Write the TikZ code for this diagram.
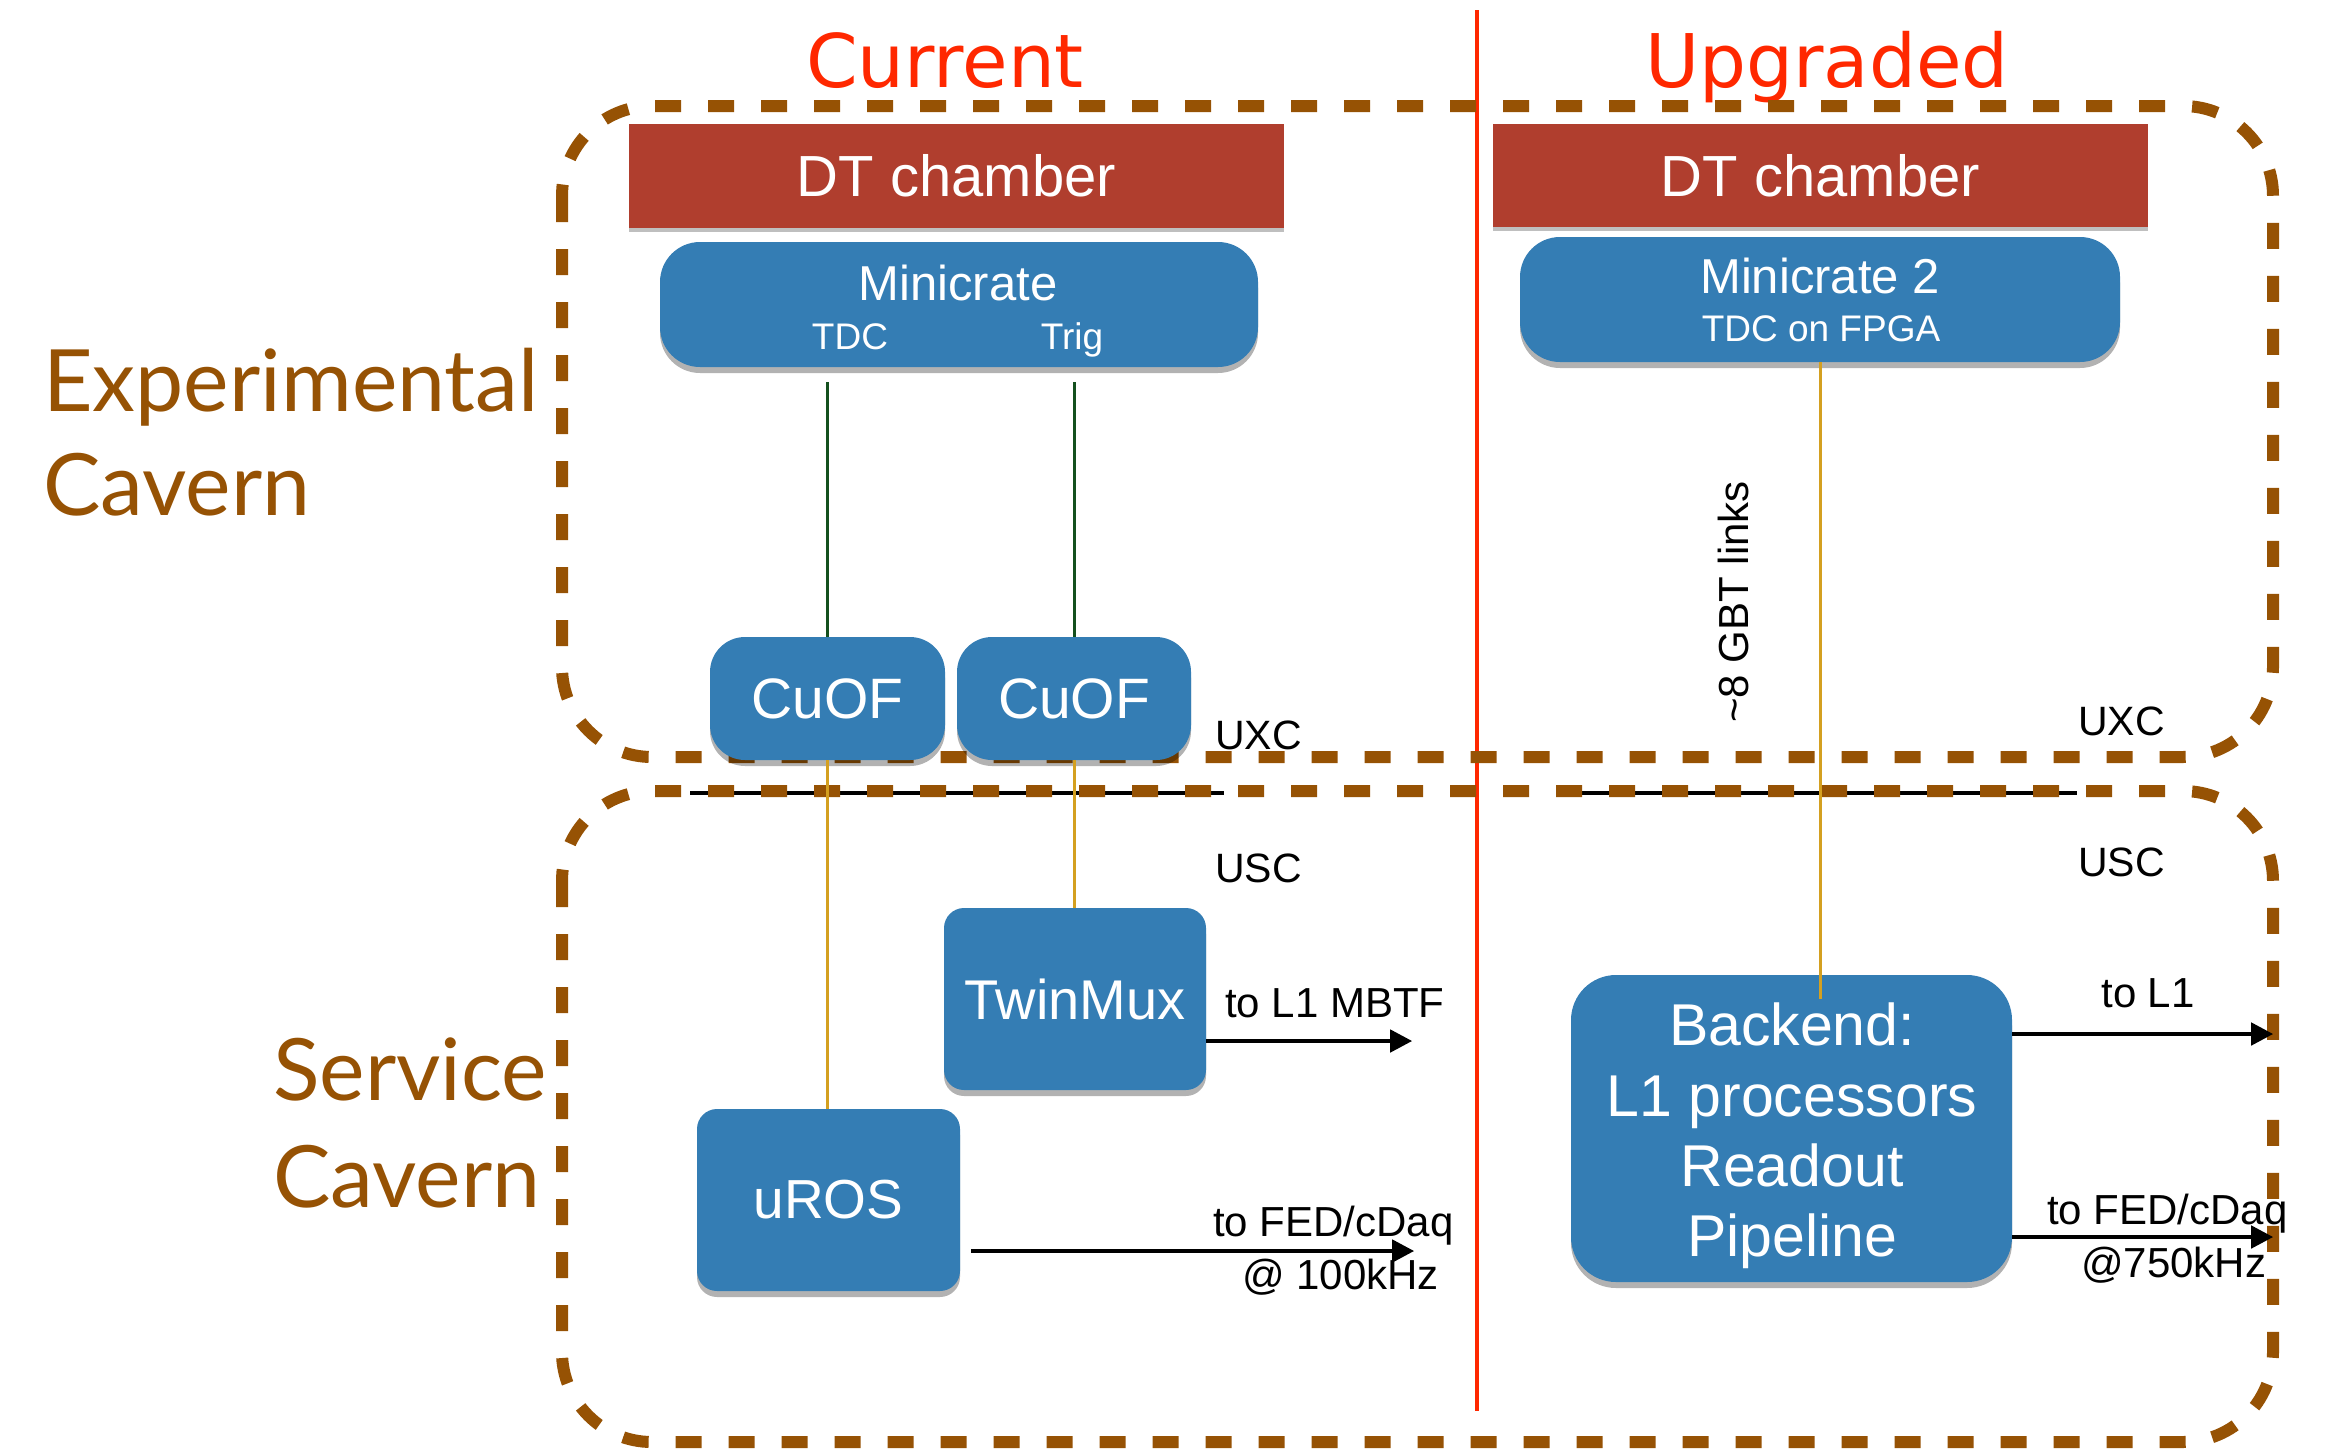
\documentclass[tikz,border=0pt]{standalone}
\usepackage{fontspec}
\setmainfont{Liberation Sans}
\newfontfamily\gillfont{Lato}
\newfontfamily\handfont{DejaVu Sans}
\usetikzlibrary{arrows.meta,shadows}
\definecolor{boxblue}{RGB}{52,125,180}
\definecolor{dtred}{RGB}{176,62,46}
\definecolor{cavbrown}{RGB}{150,82,4}
\definecolor{redline}{RGB}{255,40,0}
\definecolor{goldc}{RGB}{212,160,32}
\definecolor{dgreen}{RGB}{20,80,30}
\newcommand{\fsz}[1]{\fontsize{#1}{#1}\selectfont}
\begin{document}
\begin{tikzpicture}[x=1pt,y=-1pt,
  bluebox/.style={fill=boxblue, text=white, inner sep=0pt,
    drop shadow={shadow xshift=0pt,shadow yshift=-6pt,opacity=.3,fill=black}},
  dtbox/.style={fill=dtred, text=white, inner sep=0pt,
    drop shadow={shadow xshift=0pt,shadow yshift=-4pt,opacity=.25,fill=black}},
  wtext/.style={text=white, inner sep=0pt, anchor=base},
  ktext/.style={text=black, inner sep=0pt, anchor=base},
  cavtext/.style={text=cavbrown, inner sep=0pt, anchor=base west, font=\gillfont\fsz{86}},
  titletext/.style={text=redline, inner sep=0pt, anchor=base, font=\handfont\fsz{74}},
  cavern/.style={draw=cavbrown, line width=12pt, dash pattern=on 26pt off 27pt, rounded corners=90pt},
  greenline/.style={draw=dgreen, line width=3pt},
  goldline/.style={draw=goldc, line width=3pt},
  arr/.style={draw=black, line width=4.5pt, -{Triangle[length=22pt,width=22pt]}}
]
\useasboundingbox (0,0) rectangle (2341,1451);

% divider and titles
\draw[draw=redline, line width=4pt] (1477,10) -- (1477,1411);
\node[titletext] (tcur) at (945,87) {Current};
\node[titletext] (tupg) at (1827,87) {Upgraded};

% cavern labels
\node[cavtext] (lexp) at (43,411) {Experimental};
\node[cavtext] (lexc) at (43,515) {Cavern};
\node[cavtext] (lser) at (273,1100) {Service};
\node[cavtext] (lsec) at (273,1207) {Cavern};

% separation black lines
\draw[line width=4pt] (690,793) -- (1224,793);
\draw[line width=4pt] (1570,793) -- (2077,793);

% cavern boxes
\draw[cavern] (562,106) rectangle (2273,757);
\draw[cavern] (562,791) rectangle (2273,1442);

% current side
\node[dtbox, minimum width=655pt, minimum height=104pt, font=\fsz{58}] (dt1) at (956.5,176) {DT chamber};
\node[bluebox, minimum width=598pt, minimum height=125pt, rounded corners=40pt] (mc) at (959,304.5) {};
\node[wtext, font=\fsz{49}] (mct) at (958,300) {Minicrate};
\node[wtext, font=\fsz{37}] (mctdc) at (850,349) {TDC};
\node[wtext, font=\fsz{37}] (mctrig) at (1072,349) {Trig};

\node[bluebox, minimum width=235pt, minimum height=123pt, rounded corners=35pt, font=\fsz{57}] (cuof1) at (827.5,698.5) {CuOF};
\node[bluebox, minimum width=234pt, minimum height=123pt, rounded corners=35pt, font=\fsz{57}] (cuof2) at (1074,698.5) {CuOF};
\node[bluebox, minimum width=262pt, minimum height=182pt, rounded corners=20pt, font=\fsz{56}] (tm) at (1075,999) {TwinMux};
\node[bluebox, minimum width=263pt, minimum height=182pt, rounded corners=20pt, font=\fsz{55}] (uros) at (828.5,1200) {uROS};

\coordinate (g1) at (827.5,382);
\coordinate (g2) at (1074,382);
\draw[greenline] (g1) -- (cuof1.north);
\draw[greenline] (g2) -- (cuof2.north);
\draw[goldline] (cuof1.south) -- (cuof1.south |- uros.north);
\draw[goldline] (cuof2.south) -- (cuof2.south |- tm.north);

\node[ktext, anchor=base west, font=\fsz{41}] (uxc1) at (1215,749) {UXC};
\node[ktext, anchor=base west, font=\fsz{41}] (usc1) at (1215,882) {USC};

\draw[arr] ([yshift=-42pt]tm.east) -- ++(206,0);
\node[ktext, anchor=base west, font=\fsz{42}] (l1mbtf) at (1225,1017) {to L1 MBTF};
\draw[arr] ([xshift=11pt,yshift=-51pt]uros.east) -- ++(443,0);
\node[ktext, anchor=base west, font=\fsz{42}] (fed1) at (1213,1236) {to FED/cDaq};
\node[ktext, anchor=base west, font=\fsz{42}] (rate1) at (1242,1289) {@ 100kHz};

% upgraded side
\node[dtbox, minimum width=655pt, minimum height=103pt, font=\fsz{58}] (dt2) at (1820.5,175.5) {DT chamber};
\node[bluebox, minimum width=600pt, minimum height=125pt, rounded corners=40pt] (mc2) at (1820,299.5) {};
\node[wtext, font=\fsz{49}] (mc2t) at (1820,293) {Minicrate 2};
\node[wtext, font=\fsz{37}] (mc2s) at (1821,341) {TDC on FPGA};

\node[bluebox, minimum width=441pt, minimum height=307pt, rounded corners=45pt] (be) at (1791.5,1128.5) {};
\node[wtext, font=\fsz{59}] (be1) at (1792,1045) {Backend:};
\node[wtext, font=\fsz{59}] (be2) at (1792,1116) {L1 processors};
\node[wtext, font=\fsz{59}] (be3) at (1792,1186) {Readout};
\node[wtext, font=\fsz{59}] (be4) at (1792,1256) {Pipeline};

\coordinate (bein) at (1820,999);
\draw[goldline] (mc2.south) -- (bein);
\node[ktext, rotate=90, font=\fsz{42}] (gbt) at (1748,602) {\textasciitilde8 GBT links};

\node[ktext, anchor=base west, font=\fsz{41}] (uxc2) at (2078,735) {UXC};
\node[ktext, anchor=base west, font=\fsz{41}] (usc2) at (2078,876) {USC};

\draw[arr] ([yshift=94.5pt]be.east) -- ++(261,0);
\node[ktext, font=\fsz{42}] (tol1) at (2148,1007) {to L1};
\draw[arr] ([yshift=-108.5pt]be.east) -- ++(261,0);
\node[ktext, anchor=base west, font=\fsz{42}] (fed2) at (2047,1224) {to FED/cDaq};
\node[ktext, anchor=base west, font=\fsz{42}] (rate2) at (2081,1277) {@750kHz};
\end{tikzpicture}
\end{document}
